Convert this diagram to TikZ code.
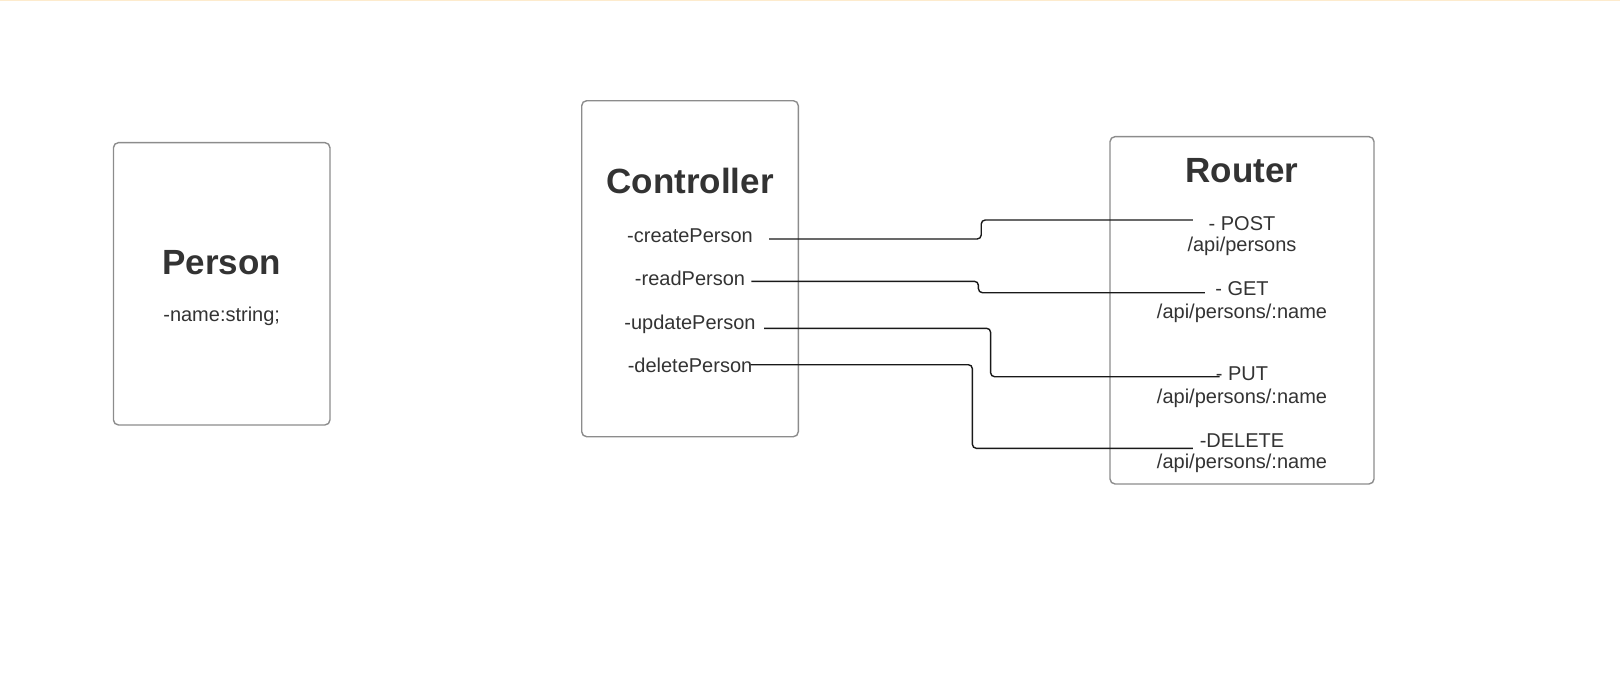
\documentclass[tikz,border=0pt]{standalone}
\usepackage{fontspec}
\setmainfont{Liberation Sans}
\usetikzlibrary{positioning, calc}
\definecolor{mytext}{RGB}{51,51,51}
\definecolor{myframe}{RGB}{140,140,140}
\definecolor{mywire}{RGB}{25,25,25}
\definecolor{mytop}{RGB}{253,235,205}
\tikzset{
  classbox/.style={rectangle, draw=myframe, rounded corners=2.5pt, line width=0.7pt},
  boxtitle/.style={font=\bfseries\fontsize{17.5}{21}\selectfont, text=mytext,
    anchor=base, inner sep=1pt},
  member/.style={font=\fontsize{10}{12}\selectfont, text=mytext,
    anchor=base, inner sep=1pt},
  wire/.style={line width=0.7pt, color=mywire, rounded corners=2pt},
  topline/.style={line width=0.6pt, color=mytop}
}

\begin{document}
\begin{tikzpicture}[x=0.5pt, y=-0.5pt]
  \useasboundingbox (0,0) rectangle (1620,687);
  \draw[topline] (0,0.6) -- (1620,0.6);
  % boxes
  \node[classbox, minimum width=108.25pt, minimum height=141.15pt] (person) at (221.7,283.8) {};
  \node[classbox, minimum width=108.3pt, minimum height=168pt]     (ctrl)   at (690,268.7)   {};
  \node[classbox, minimum width=132pt, minimum height=173.65pt]    (router) at (1242,310.3)  {};
  % person
  \node[boxtitle] (persontitle) at (221.7,274) {Person};
  \node[member]   (namefield)   at (221.7,321) {-name:string;};
  % controller
  \node[boxtitle] (ctrltitle) at (690,193)   {Controller};
  \node[member]   (create)    at (690,242)   {-createPerson};
  \node[member]   (read)      at (690,285.3) {-readPerson};
  \node[member]   (update)    at (690,329.3) {-updatePerson};
  \node[member]   (delete)    at (690,372.7) {-deletePerson};
  % router
  \node[boxtitle] (routertitle) at (1242,182) {Router};
  \node[member] (post)     at (1242,230)   {- POST};
  \node[member] (postpath) at ($(post.base)+(0,21.7)$) {/api/persons};
  \node[member] (get)      at (1242,295.7) {- GET};
  \node[member] (getpath)  at ($(get.base)+(0,22.6)$) {/api/persons/:name};
  \node[member] (put)      at (1242,380.7) {- PUT};
  \node[member] (putpath)  at ($(put.base)+(0,22.6)$) {/api/persons/:name};
  \node[member] (del)      at (1242,447.3) {-DELETE};
  \node[member] (delpath)  at ($(del.base)+(0,21)$) {/api/persons/:name};
  % connectors
  \draw[wire] ([shift={(14,-3)}]create.base east) -- ++(212,0)
    |- ([shift={(-13.4,-10)}]post.base west);
  \draw[wire] ([shift={(4,-4)}]read.base east) -- ++(227,0)
    |- ([shift={(-8,-3)}]get.base west);
  \draw[wire] ([shift={(6,-1)}]update.base east) -- ++(226.6,0)
    |- ([shift={(6,-4)}]put.base west);
  \draw[wire] ([shift={(-4,-8)}]delete.base east) -- ++(221.7,0)
    |- ([shift={(-4.5,1)}]del.base west);
\end{tikzpicture}
\end{document}
